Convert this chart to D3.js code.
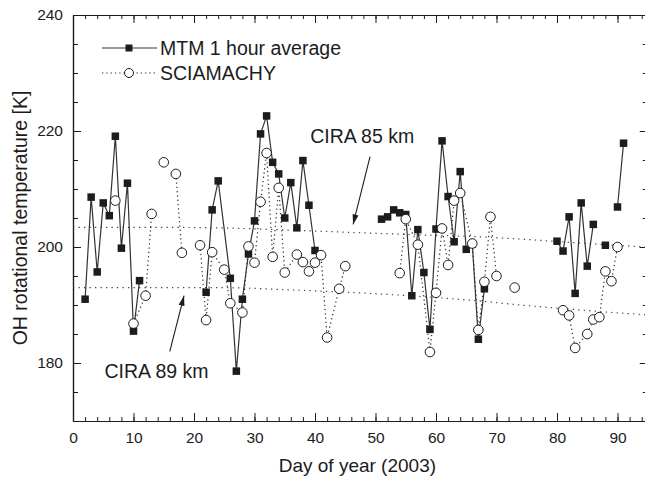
<!DOCTYPE html>
<html><head><meta charset="utf-8">
<script src="https://cdn.jsdelivr.net/npm/d3@7"></script>
<style>
html,body{margin:0;padding:0;background:#fff;}
svg{display:block;font-family:"Liberation Sans",Arial,Helvetica,sans-serif;}
</style></head>
<body><svg id="c" width="645" height="477"></svg>
<script>
// ---- data ----
const mtmDays = [2,3,4,5,6,7,8,9,10,11,
  22,23,24,26,27,28,29,30,31,32,33,34,35,36,37,38,39,40,
  51,52,53,54,55,56,57,58,59,60,61,62,63,64,65,66,67,68,
  80,81,82,83,84,85,86,
  88,
  90,91];
const mtmTemp = [191.0,208.6,195.7,207.6,205.4,219.1,199.8,211.0,185.5,194.2,
  192.2,206.4,211.4,194.6,178.6,191.0,198.8,204.5,219.5,222.6,214.6,212.6,205.0,211.1,203.3,214.9,207.2,199.4,
  204.8,205.2,206.4,205.9,205.6,191.6,203.0,195.6,185.8,203.1,218.3,208.7,200.9,213.0,199.6,200.5,184.1,192.8,
  201.0,199.3,205.2,192.0,207.6,196.7,203.9,
  200.3,
  206.9,217.9];
const mtmRunStarts = [2,22,51,80,88,90];

const sciaDays = [7, 10,12,13, 15, 17,18,
  21,22,23,25,26,28,29,30,31,32,33,34,35,37,38,39,40,41,42,44,45,
  54,55,57,59,60,61,62,63,64,66,67,68,69,70,
  73,
  81,82,83,85,86,87,88,89,90];
const sciaTemp = [208.0, 186.8,191.6,205.7, 214.6, 212.6,199.0,
  200.3,187.4,199.1,196.1,190.3,188.7,200.1,197.3,207.8,216.2,198.3,210.2,195.6,198.7,197.4,195.8,197.3,198.6,184.4,192.8,196.7,
  195.5,204.8,200.4,181.9,192.1,203.2,196.9,208.0,209.3,200.6,185.7,194.0,205.2,195.0,
  193.0,
  189.1,188.2,182.6,185.0,187.5,187.9,195.8,194.1,200.0];
const sciaRunStarts = [7,10,15,17,21,54,73,81];

const ciraDays = [0,12,24,36,49,57,66,75,82,88,95];
const cira85 = [203.4,203.4,203.3,202.9,202.4,202.1,201.8,201.3,200.8,200.4,200.0];
const cira89 = [193.0,193.0,193.0,192.6,192.0,191.5,190.8,189.9,189.3,188.8,188.3];

const xTicks = [0,10,20,30,40,50,60,70,80,90];
const yTicks = [180,200,220,240];
const legendLabels = ["MTM 1 hour average","SCIAMACHY"];
const ciraLabels = ["CIRA 85 km","CIRA 89 km"];

// ---- layout ----
const svg = d3.select("#c");
const M = {left:73, top:15, right:647.75, bottom:421};
const x = d3.scaleLinear().domain([0,95]).range([M.left, M.right]);
const y = d3.scaleLinear().domain([170,240]).range([M.bottom, M.top]);
const ink = "#1c1c1c";

function runs(days, vals, starts){
  const out=[]; let cur=null;
  days.forEach((d,i)=>{
    if(starts.includes(d) || cur===null){ cur=[]; out.push(cur); }
    cur.push([d, vals[i]]);
  });
  return out;
}

// axes (ticks inward)
const tickStyle = g => { g.select(".domain").attr("stroke",ink).attr("stroke-width",1.2);
  g.selectAll("line").attr("stroke",ink).attr("stroke-width",1); };

const xMinor = d3.range(0,96,2);
const yMinor = d3.range(170,241,5);

// bottom
svg.append("g").attr("transform",`translate(0,${M.bottom})`)
  .call(d3.axisTop(x).tickValues(xMinor).tickSize(4).tickFormat("").tickSizeOuter(0)).call(tickStyle);
svg.append("g").attr("transform",`translate(0,${M.bottom})`)
  .call(d3.axisTop(x).tickValues(xTicks).tickSize(8).tickFormat("").tickSizeOuter(0)).call(tickStyle);
svg.append("g").attr("transform",`translate(0,${M.bottom})`)
  .call(d3.axisBottom(x).tickValues(xTicks).tickSize(0).tickPadding(11).tickSizeOuter(0))
  .call(g=>{g.select(".domain").remove();
    g.selectAll("text").attr("font-size",15.5).attr("fill",ink).attr("font-family","Liberation Sans, Arial, sans-serif");});
// top
svg.append("g").attr("transform",`translate(0,${M.top})`)
  .call(d3.axisBottom(x).tickValues(xMinor).tickSize(4).tickFormat("").tickSizeOuter(0)).call(tickStyle);
svg.append("g").attr("transform",`translate(0,${M.top})`)
  .call(d3.axisBottom(x).tickValues(xTicks).tickSize(8).tickFormat("").tickSizeOuter(0)).call(tickStyle);
// left
svg.append("g").attr("transform",`translate(${M.left},0)`)
  .call(d3.axisRight(y).tickValues(yMinor).tickSize(5).tickFormat("").tickSizeOuter(0)).call(tickStyle);
svg.append("g").attr("transform",`translate(${M.left},0)`)
  .call(d3.axisRight(y).tickValues(yTicks).tickSize(8).tickFormat("").tickSizeOuter(0)).call(tickStyle);
svg.append("g").attr("transform",`translate(${M.left},0)`)
  .call(d3.axisLeft(y).tickValues(yTicks).tickSize(0).tickPadding(10).tickSizeOuter(0))
  .call(g=>{g.select(".domain").remove();
    g.selectAll("text").attr("font-size",15.5).attr("fill",ink).attr("font-family","Liberation Sans, Arial, sans-serif");});
// right
svg.append("g").attr("transform",`translate(${M.right},0)`)
  .call(d3.axisLeft(y).tickValues(yMinor).tickSize(5).tickFormat("").tickSizeOuter(0)).call(tickStyle);
svg.append("g").attr("transform",`translate(${M.right},0)`)
  .call(d3.axisLeft(y).tickValues(yTicks).tickSize(8).tickFormat("").tickSizeOuter(0)).call(tickStyle);

// axis titles
svg.append("text").attr("x",(M.left+M.right)/2 - 3).attr("y",472)
  .attr("text-anchor","middle").attr("font-size",19).attr("fill",ink).text("Day of year (2003)");
svg.append("text").attr("transform",`translate(27,${(M.top+M.bottom)/2}) rotate(-90)`)
  .attr("text-anchor","middle").attr("font-size",19.5).attr("fill",ink).text("OH rotational temperature [K]");

// CIRA lines
const line = d3.line().x(d=>x(d[0])).y(d=>y(d[1])).curve(d3.curveMonotoneX);
[cira85, cira89].forEach(vals=>{
  svg.append("path").datum(ciraDays.map((d,i)=>[d,vals[i]]))
    .attr("d",line).attr("fill","none").attr("stroke","#444").attr("stroke-width",1.2)
    .attr("stroke-dasharray","1.3,4.2");
});

// SCIA dotted lines
const lin = d3.line().x(d=>x(d[0])).y(d=>y(d[1]));
runs(sciaDays, sciaTemp, sciaRunStarts).forEach(r=>{
  svg.append("path").datum(r).attr("d",lin).attr("fill","none")
    .attr("stroke","#333").attr("stroke-width",1.2).attr("stroke-dasharray","1.3,3");
});
// MTM solid lines
runs(mtmDays, mtmTemp, mtmRunStarts).forEach(r=>{
  svg.append("path").datum(r).attr("d",lin).attr("fill","none")
    .attr("stroke","#333").attr("stroke-width",1.2);
});
// MTM squares
const sq = 7.5;
svg.append("g").selectAll("rect").data(mtmDays.map((d,i)=>[d,mtmTemp[i]])).join("rect")
  .attr("x",d=>x(d[0])-sq/2).attr("y",d=>y(d[1])-sq/2).attr("width",sq).attr("height",sq)
  .attr("fill",ink);
// SCIA circles
svg.append("g").selectAll("circle").data(sciaDays.map((d,i)=>[d,sciaTemp[i]])).join("circle")
  .attr("cx",d=>x(d[0])).attr("cy",d=>y(d[1])).attr("r",4.8)
  .attr("fill","#fff").attr("stroke",ink).attr("stroke-width",1);

// legend
const lg = svg.append("g");
lg.append("line").attr("x1",102).attr("x2",157).attr("y1",48).attr("y2",48).attr("stroke","#333").attr("stroke-width",1.2);
lg.append("rect").attr("x",129-3.5).attr("y",48-3.5).attr("width",7).attr("height",7).attr("fill",ink);
lg.append("line").attr("x1",102).attr("x2",157).attr("y1",73).attr("y2",73).attr("stroke","#333").attr("stroke-width",1.2).attr("stroke-dasharray","1.3,3");
lg.append("circle").attr("cx",129).attr("cy",73).attr("r",4.5).attr("fill","#fff").attr("stroke",ink);
legendLabels.forEach((t,i)=>{
  lg.append("text").attr("x",160).attr("y",48+25*i).attr("dy","0.35em")
    .attr("font-size",19.5).attr("fill",ink).text(t);
});

// annotations
svg.append("defs").append("marker").attr("id","ah").attr("viewBox","0 0 10 10")
  .attr("refX",10).attr("refY",5).attr("markerWidth",10).attr("markerHeight",10)
  .attr("markerUnits","userSpaceOnUse").attr("orient","auto")
  .append("path").attr("d","M0,2 L10,5 L0,8 Z").attr("fill",ink);
svg.append("text").attr("x",x(39.2)).attr("y",y(218.0)).attr("font-size",19.5).attr("fill",ink).text(ciraLabels[0]);
svg.append("text").attr("x",x(5.2)).attr("y",y(177.4)).attr("font-size",19.5).attr("fill",ink).text(ciraLabels[1]);
svg.append("line").attr("x1",x(49.1)).attr("y1",y(215.6)).attr("x2",x(46.3)).attr("y2",y(203.9))
  .attr("stroke",ink).attr("stroke-width",1.1).attr("marker-end","url(#ah)");
svg.append("line").attr("x1",x(16.0)).attr("y1",y(182.0)).attr("x2",x(18.35)).attr("y2",y(191.6))
  .attr("stroke",ink).attr("stroke-width",1.1).attr("marker-end","url(#ah)");
</script></body></html>
